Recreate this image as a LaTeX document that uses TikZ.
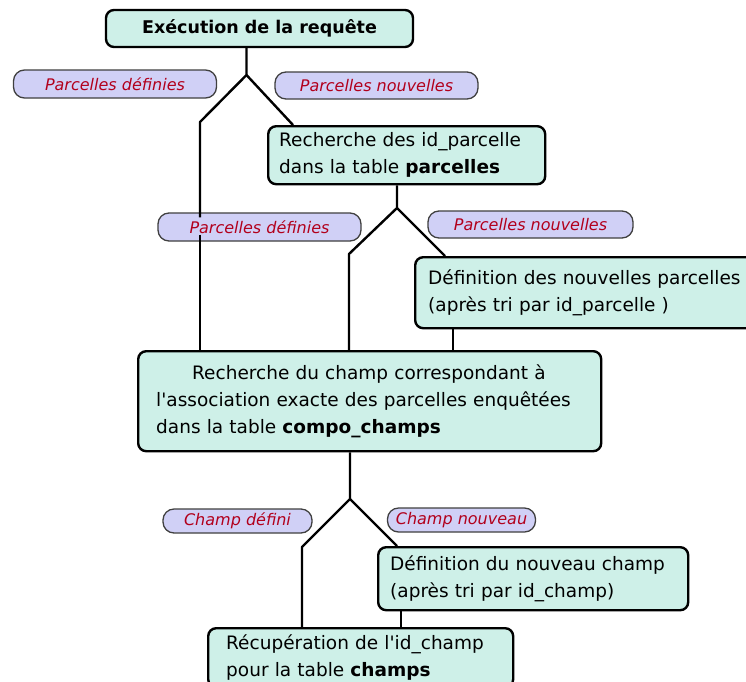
\documentclass[tikz,border=0pt]{standalone}
\usepackage{fontspec}
\newfontfamily\boxfont{DejaVu Sans}
\usetikzlibrary{calc}
\definecolor{boxfill}{RGB}{206,240,232}
\definecolor{tagfill}{RGB}{208,208,246}
\definecolor{tagtext}{RGB}{178,0,28}

\begin{document}
\begin{tikzpicture}[x=1pt,y=-1pt,line join=round]
\tikzset{etape/.style=
            {draw,line width=2.4pt,rounded corners=8pt,fill=boxfill,anchor=north west,
             font=\boxfont\fontsize{18.5}{27}\selectfont,align=left,inner ysep=0pt},
         choix/.style=
            {draw=black!75,line width=1.3pt,rounded corners=11pt,fill=tagfill,text=tagtext,
             font=\boxfont\itshape\fontsize{16}{18}\selectfont,inner sep=0pt},
         lien/.style=
            {line width=2.4pt}}
\clip (0,0) rectangle (746,681);
\fill[white] (0,0) rectangle (746,681);

% boxes
\node[etape,anchor=center,align=center,minimum width=307pt,minimum height=37pt,
      font=\boxfont\bfseries\fontsize{17.5}{20}\selectfont] (exec) at (259.5,28.5)
      {Exécution de la requête};
\node[etape,text width=255pt,inner xsep=11pt,minimum height=58pt] (parc) at (267,125)
      {Recherche des id\_parcelle\\dans la table \textbf{parcelles}};
\node[etape,text width=340pt,inner xsep=13pt,minimum height=71pt] (defparc) at (414,256)
      {Définition des nouvelles parcelles\\(après tri par id\_parcelle )};
\node[etape,text width=427pt,inner xsep=18pt,minimum height=100pt] (central) at (137,350)
      {\hspace*{36pt}Recherche du champ correspondant à\\
       l'association exacte des parcelles enquêtées\\
       dans la table \textbf{compo\_champs}};
\node[etape,text width=286pt,inner xsep=12pt,minimum height=63pt] (defch) at (377,546)
      {Définition du nouveau champ\\(après tri par id\_champ)};
\node[etape,text width=269pt,inner xsep=18pt,minimum height=59pt] (recup) at (207,627)
      {Récupération de l'id\_champ\\pour la table \textbf{champs}};

% choices
\node[choix,minimum width=203pt,minimum height=28pt] (pdefA) at (115,84) {Parcelles définies};
\node[choix,minimum width=203pt,minimum height=27pt] (pnouvA) at (376.5,85.5) {Parcelles nouvelles};
\node[choix,minimum width=203pt,minimum height=28pt] (pdefB) at (259.5,227) {Parcelles définies};
\node[choix,minimum width=205pt,minimum height=27pt] (pnouvB) at (530.5,224.5) {Parcelles nouvelles};
\node[choix,minimum width=149pt,minimum height=24pt] (cdef) at (237.5,521) {Champ défini};
\node[choix,minimum width=148pt,minimum height=24pt] (cnouv) at (461.5,520) {Champ nouveau};

% forks
\coordinate (f1) at (246.5,75);
\coordinate (g1) at (200,122);
\coordinate (f2) at (397,208);
\coordinate (g2) at (349,254);
\coordinate (f3) at (350,499);
\coordinate (g3) at (302,547);

\draw[lien] (exec.south -| f1) -- (f1) -- (g1) -- ([yshift=-5pt]pdefB.north -| g1);
\draw[lien] ([yshift=7pt]pdefB.south -| g1) -- (central.north -| g1);
\draw[lien] (f1) -- ($(parc.north west)+(26,0)$);

\draw[lien] (parc.south -| f2) -- (f2) -- (g2) -- (central.north -| g2);
\draw[lien] (f2) -- ($(defparc.north west)+(31,0)$);
\draw[lien] ($(defparc.south west)+(39,0)$) coordinate (s2) -- (central.north -| s2);

\draw[lien] (central.south -| f3) -- (f3) -- (g3) -- (recup.north -| g3);
\draw[lien] (f3) -- ($(defch.north west)+(20,0)$);
\draw[lien] ($(defch.south west)+(24,0)$) coordinate (s3) -- (recup.north -| s3);
\end{tikzpicture}
\end{document}
